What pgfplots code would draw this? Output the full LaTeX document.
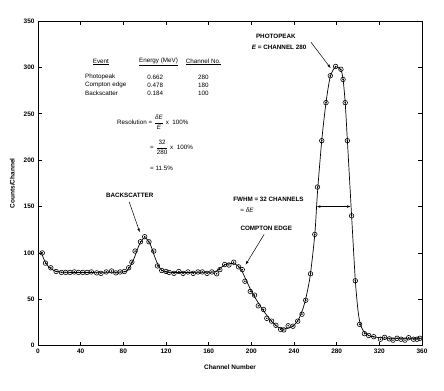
\documentclass[border=0pt]{standalone}
\usepackage{pgfplots}
\pgfplotsset{compat=1.18}
\usepackage{amsmath}
\usepackage{fontspec}
\setmainfont{Liberation Sans}
\usetikzlibrary{arrows.meta}
\begin{document}
\begin{tikzpicture}
\begin{axis}[
  scale only axis, width=384bp, height=324.7bp,
  xmin=0, xmax=360, ymin=0, ymax=350,
  xtick={0,40,...,360}, ytick={0,50,...,350},
  tick align=inside, major tick length=4bp,
  tick style={black, line width=0.6pt},
  axis line style={black, line width=0.7pt},
  every tick label/.append style={font=\fontsize{6.5}{8}\selectfont\bfseries},
  /pgf/number format/assume math mode=true,
  xlabel={Channel Number}, ylabel={Counts/Channel},
  xlabel style={font=\fontsize{6.5}{8}\selectfont\bfseries, yshift=-4bp},
  ylabel style={font=\fontsize{6.5}{8}\selectfont\bfseries, yshift=2bp},
  clip=false,
]
% fitted curve
\addplot[black, line width=0.7pt, smooth, tension=0.45] coordinates {
(3,101) (6,92) (10,85) (15,81) (20,79.5) (30,79) (50,79) (80,79.5) (85,83) (90,94) (95,109) (100,116.5) (105,110) (110,94) (114,84) (118,80) (125,79) (145,79) (165,79.5) (170,83) (175,87) (180,88.5) (185,88) (190,83) (195,71) (200,59) (205,49) (210,40) (215,32) (220,25) (225,20) (230,18) (235,19) (240,22) (245,30) (250,46) (255,74) (259.5,120) (262,165) (266,221) (270,262) (274,290) (279,300.5) (284,297) (286,287) (288,262) (290,222) (294,140) (297.5,70) (300,38) (302,24) (305,16) (310,11) (318,9) (330,8) (360,8)
};
% data points
\addplot[only marks, mark=o, mark size=2.3pt, mark options={black, line width=0.6pt, fill=white}] coordinates {
(4,100) (7,89) (12,84) (17,80) (22,79) (26,79) (30,79) (34,79.5) (38,79) (42,79) (46,79) (50,79.5) (55,78.5) (59,78) (64,79.5) (69,80.5) (73,78.5) (77,79.5) (81,80) (85,84) (88,90) (91,102) (96,112) (100,117.5) (104,112) (108.5,102) (112,86) (116,81) (120,80) (123,79) (127.5,78) (132,80) (136,78) (140.5,79.5) (145.5,78) (150,79.5) (154,79.5) (158.5,78) (163,79.5) (167.5,77.5) (170.5,82) (175,87.5) (179,87) (183.5,90) (188,85) (191.5,82) (194,69.5) (199,58.5) (203,54.5) (206.5,43) (211.5,39) (214.5,29.5) (219,26.5) (223,22) (227.5,17.5) (230.5,17) (234.5,21.5) (239,21) (243.5,26.5) (247.5,34) (251,49) (255.5,77.5) (259.5,120) (262,171) (266,221) (270,262) (274,291) (279,301) (284,298) (286,287) (288,262) (290,221) (294,140) (297.5,70) (301.5,23) (306,13) (310,11) (314.7,9.7) (321,7) (325,9) (329.4,7.4) (332.8,6) (336.6,8) (340.3,7) (344,6) (347.5,8.6) (352,7) (355.3,7) (358,8)
};
\addplot[only marks, mark=*, mark size=0.5pt, black] coordinates {
(4,100) (7,89) (12,84) (17,80) (22,79) (26,79) (30,79) (34,79.5) (38,79) (42,79) (46,79) (50,79.5) (55,78.5) (59,78) (64,79.5) (69,80.5) (73,78.5) (77,79.5) (81,80) (85,84) (88,90) (91,102) (96,112) (100,117.5) (104,112) (108.5,102) (112,86) (116,81) (120,80) (123,79) (127.5,78) (132,80) (136,78) (140.5,79.5) (145.5,78) (150,79.5) (154,79.5) (158.5,78) (163,79.5) (167.5,77.5) (170.5,82) (175,87.5) (179,87) (183.5,90) (188,85) (191.5,82) (194,69.5) (199,58.5) (203,54.5) (206.5,43) (211.5,39) (214.5,29.5) (219,26.5) (223,22) (227.5,17.5) (230.5,17) (234.5,21.5) (239,21) (243.5,26.5) (247.5,34) (251,49) (255.5,77.5) (259.5,120) (262,171) (266,221) (270,262) (274,291) (279,301) (284,298) (286,287) (288,262) (290,221) (294,140) (297.5,70) (301.5,23) (306,13) (310,11) (314.7,9.7) (321,7) (325,9) (329.4,7.4) (332.8,6) (336.6,8) (340.3,7) (344,6) (347.5,8.6) (352,7) (355.3,7) (358,8)
};
% table
\begin{scope}[every node/.style={font=\fontsize{6.3}{7.5}\selectfont, inner sep=0pt}]
\node at (axis cs:59,306) {\underline{Event}};
\node at (axis cs:113,306) {\underline{Energy (MeV)}};
\node at (axis cs:155,306) {\underline{Channel No.}};
\node[anchor=west] at (axis cs:44,289.5) {Photopeak};
\node[anchor=west] at (axis cs:44,281) {Compton edge};
\node[anchor=west] at (axis cs:44,272.5) {Backscatter};
\node at (axis cs:110,289.5) {0.662};
\node at (axis cs:110,281) {0.478};
\node at (axis cs:110,272.5) {0.184};
\node at (axis cs:155,289.5) {280};
\node at (axis cs:155,281) {180};
\node at (axis cs:155,272.5) {100};
\node[anchor=west] at (axis cs:74,241) {Resolution = $\dfrac{\textit{δE}}{\textit{E}}$ x~~100\%};
\node[anchor=west] at (axis cs:105,214) {= $\dfrac{\text{32}}{\text{280}}$ x~~100\%};
\node[anchor=west] at (axis cs:105,191.5) {= 11.5\%};
\end{scope}
% annotations
\begin{scope}[every node/.style={font=\fontsize{6.3}{7.5}\selectfont\bfseries, inner sep=0pt}]
\node at (axis cs:86,162) {BACKSCATTER};
\draw[-{Latex[length=4pt,width=2.5pt]}, line width=0.5pt] (axis cs:85.5,155) -- (axis cs:95.5,122);
\node at (axis cs:214,126) {COMPTON EDGE};
\draw[-{Latex[length=4pt,width=2.5pt]}, line width=0.5pt] (axis cs:212,120) -- (axis cs:194.5,87);
\node at (axis cs:216,158) {FWHM = 32 CHANNELS};
\node[font=\fontsize{6.3}{7.5}\selectfont] at (axis cs:196,146) {= \textit{δE}};
\draw[{Latex[length=4pt,width=2.5pt]}-{Latex[length=4pt,width=2.5pt]}, line width=0.6pt] (axis cs:261,150) -- (axis cs:293.5,150);
\node at (axis cs:223,333) {PHOTOPEAK};
\node at (axis cs:226,322) {\textit{E} = CHANNEL 280};
\draw[-{Latex[length=4pt,width=2.5pt]}, line width=0.5pt] (axis cs:256,327) -- (axis cs:274.5,299);
\end{scope}
\end{axis}
\path (current axis.south west) ++(-38bp,-45.3bp) coordinate (bbsw);
\path (current axis.north east) ++(22bp,21bp) coordinate (bbne);
\useasboundingbox (bbsw) rectangle (bbne);
\end{tikzpicture}
\end{document}
